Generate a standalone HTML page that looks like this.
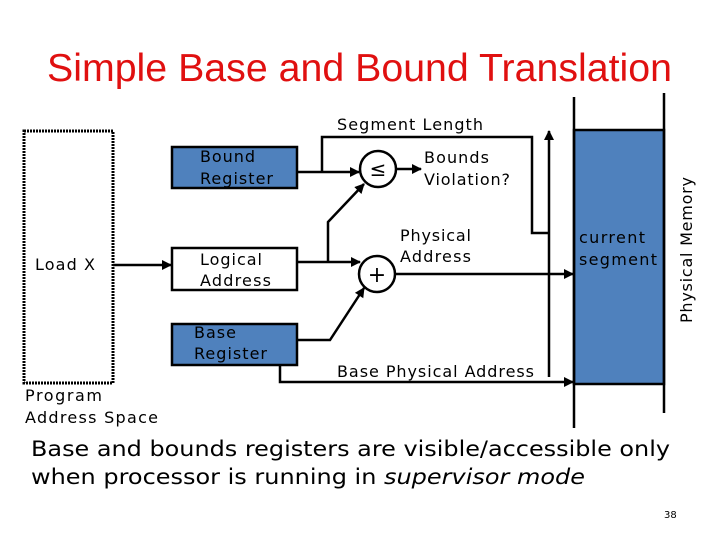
<!DOCTYPE html>
<html><head><meta charset="utf-8"><style>
html,body{margin:0;padding:0;background:#fff;}
svg{display:block;}
text{font-family:"DejaVu Sans",sans-serif;fill:#000;}
</style></head><body>
<svg width="720" height="540" viewBox="0 0 720 540" xmlns="http://www.w3.org/2000/svg">
<defs>
<marker id="a" markerWidth="10" markerHeight="10" refX="9" refY="5" orient="auto" markerUnits="userSpaceOnUse">
<path d="M0,0 L10,5 L0,10 z" fill="#000"/></marker>
</defs>
<text x="47" y="81" style="font-family:'Liberation Sans',sans-serif;fill:#e01010" font-size="39" textLength="625" lengthAdjust="spacingAndGlyphs">Simple Base and Bound Translation</text>

<!-- program address space -->
<rect x="24" y="131" width="89" height="252" fill="none" stroke="#000" stroke-width="3" stroke-dasharray="2,1"/>
<text x="35" y="270" font-size="16" textLength="60">Load X</text>
<text x="25" y="401" font-size="16" textLength="77">Program</text>
<text x="25" y="423" font-size="16" textLength="133">Address Space</text>
<line x1="113" y1="265" x2="171" y2="265" stroke="#000" stroke-width="2.5" marker-end="url(#a)"/>

<!-- registers -->
<rect x="172" y="147" width="125" height="41" fill="#4f81bd" stroke="#000" stroke-width="2.5"/>
<text x="200" y="162" font-size="16" textLength="55">Bound</text>
<text x="200" y="184" font-size="16" textLength="73">Register</text>
<rect x="172" y="248" width="125" height="42" fill="#fff" stroke="#000" stroke-width="2.5"/>
<text x="200" y="265" font-size="16" textLength="62">Logical</text>
<text x="200" y="286" font-size="16" textLength="71">Address</text>
<rect x="172" y="324" width="125" height="41" fill="#4f81bd" stroke="#000" stroke-width="2.5"/>
<text x="194" y="338" font-size="16" textLength="42">Base</text>
<text x="194" y="359" font-size="16" textLength="73">Register</text>

<!-- comparator -->
<circle cx="378" cy="169" r="18" fill="#fff" stroke="#000" stroke-width="2.5"/>
<text x="378" y="176" font-size="20" text-anchor="middle">≤</text>
<line x1="297" y1="172" x2="359" y2="172" stroke="#000" stroke-width="2.5" marker-end="url(#a)"/>
<polyline points="322,172 322,137 532,137 532,233 549,233" fill="none" stroke="#000" stroke-width="2.5"/>
<line x1="396" y1="169" x2="421" y2="169" stroke="#000" stroke-width="2.5" marker-end="url(#a)"/>
<text x="424" y="163" font-size="16" textLength="65">Bounds</text>
<text x="424" y="185" font-size="16" textLength="86">Violation?</text>
<text x="337" y="130" font-size="16" textLength="146">Segment Length</text>

<!-- adder -->
<circle cx="377" cy="274" r="18" fill="#fff" stroke="#000" stroke-width="2.5"/>
<text x="377" y="282" font-size="22" text-anchor="middle">+</text>
<line x1="297" y1="262" x2="360" y2="262" stroke="#000" stroke-width="2.5" marker-end="url(#a)"/>
<polyline points="328,262 328,222 364,184" fill="none" stroke="#000" stroke-width="2.5" marker-end="url(#a)"/>
<polyline points="297,340 330,340 364,288" fill="none" stroke="#000" stroke-width="2.5" marker-end="url(#a)"/>
<line x1="395" y1="274" x2="573" y2="274" stroke="#000" stroke-width="2.5" marker-end="url(#a)"/>
<text x="400" y="241" font-size="16" textLength="71">Physical</text>
<text x="400" y="262" font-size="16" textLength="71">Address</text>

<!-- base physical -->
<polyline points="280,365 280,382 573,382" fill="none" stroke="#000" stroke-width="2.5" marker-end="url(#a)"/>
<text x="337" y="377" font-size="16" textLength="197">Base Physical Address</text>
<line x1="549" y1="377" x2="549" y2="131" stroke="#000" stroke-width="2.5" marker-end="url(#a)"/>

<!-- memory -->
<rect x="574" y="130" width="90" height="254" fill="#4f81bd" stroke="#000" stroke-width="2.5"/>
<line x1="574" y1="97" x2="574" y2="428" stroke="#000" stroke-width="2.5"/>
<line x1="664" y1="93" x2="664" y2="413" stroke="#000" stroke-width="2.5"/>
<text x="579" y="243" font-size="16" textLength="66">current</text>
<text x="579" y="265" font-size="16" textLength="78">segment</text>
<text transform="translate(692,250) rotate(-90)" font-size="16" text-anchor="middle" textLength="146">Physical Memory</text>

<text x="31" y="456" font-size="21" textLength="639" lengthAdjust="spacingAndGlyphs">Base and bounds registers are visible/accessible only</text>
<text x="31" y="484" font-size="21" textLength="554" lengthAdjust="spacingAndGlyphs">when processor is running in <tspan font-style="italic">supervisor mode</tspan></text>
<text x="664" y="518" font-size="10">38</text>
</svg>
</body></html>
